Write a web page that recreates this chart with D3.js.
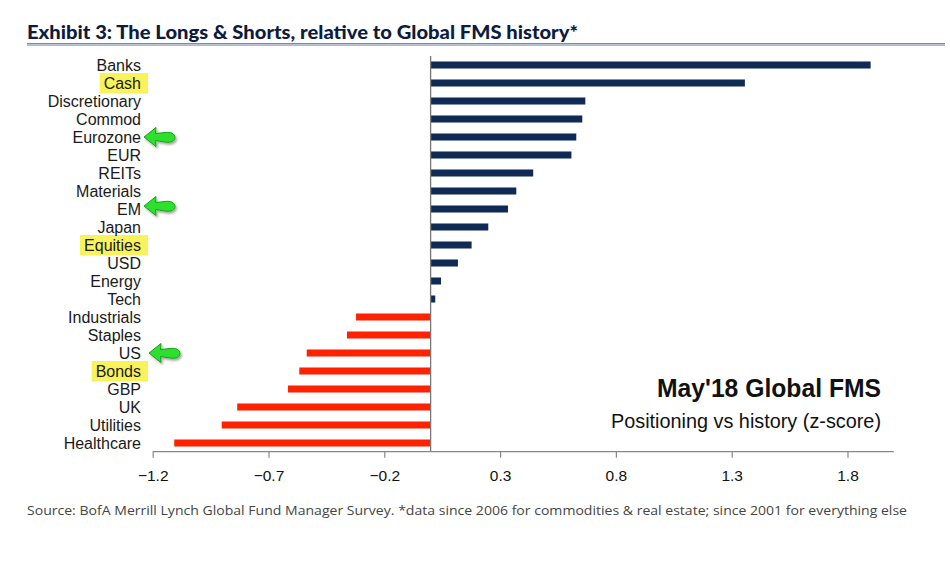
<!DOCTYPE html>
<html><head><meta charset="utf-8">
<script src="https://cdn.jsdelivr.net/npm/d3@7"></script>
<style>html,body{margin:0;padding:0;background:#fff;}svg{display:block;}</style>
</head><body>
<svg id="c" width="950" height="563"></svg>
<script>
const categories = ["Banks","Cash","Discretionary","Commod","Eurozone","EUR","REITs","Materials","EM","Japan","Equities","USD","Energy","Tech","Industrials","Staples","US","Bonds","GBP","UK","Utilities","Healthcare"];
const values = [1.90,1.357,0.668,0.655,0.629,0.608,0.443,0.370,0.334,0.249,0.177,0.118,0.045,0.020,-0.322,-0.361,-0.535,-0.567,-0.616,-0.835,-0.902,-1.107];
const tickValues = [-1.2,-0.7,-0.2,0.3,0.8,1.3,1.8];
const highlighted = ["Cash","Equities","Bonds"];
const arrowed = ["Eurozone","EM","US"];
const titleText = "Exhibit 3: The Longs & Shorts, relative to Global FMS history*";
const noteTitle = "May'18 Global FMS";
const noteSub = "Positioning vs history (z-score)";
const sourceText = "Source: BofA Merrill Lynch Global Fund Manager Survey. *data since 2006 for commodities & real estate; since 2001  for everything else";

const data = categories.map((c,i)=>({cat:c, v:values[i]}));
const svg = d3.select("#c");

const defs = svg.append("defs");
const f = defs.append("filter").attr("id","sh").attr("x","-30%").attr("y","-30%").attr("width","160%").attr("height","160%");
f.append("feDropShadow").attr("dx",1.5).attr("dy",2).attr("stdDeviation",1.2).attr("flood-color","#000").attr("flood-opacity",0.35);

// Title
svg.append("text").attr("x",27).attr("y",39)
  .attr("font-family","Lato, 'Open Sans', sans-serif").attr("font-weight","900")
  .attr("font-size",19).attr("fill","#0d1b3e")
  .attr("textLength",551).attr("lengthAdjust","spacingAndGlyphs")
  .text(titleText);
svg.append("line").attr("x1",27).attr("x2",945).attr("y1",43.8).attr("y2",43.8).attr("stroke","#44597f").attr("stroke-width",1);
svg.append("line").attr("x1",27).attr("x2",945).attr("y1",45.3).attr("y2",45.3).attr("stroke","#a9b9d8").attr("stroke-width",1.5);

const x = d3.scaleLinear().domain([-1.2,2.0]).range([152.7,893.8]);
const y = d3.scaleBand().domain(categories).range([56,452]);
const barH = y.bandwidth()*0.39;

// bars
svg.append("g").selectAll("rect").data(data).join("rect")
  .attr("x",d=>x(Math.min(0,d.v)))
  .attr("width",d=>Math.abs(x(d.v)-x(0)))
  .attr("y",d=>y(d.cat)+y.bandwidth()/2-barH/2)
  .attr("height",barH)
  .attr("fill",d=>d.v>=0?"#0f2a55":"#ff2200");

// zero axis
svg.append("line").attr("x1",x(0)).attr("x2",x(0)).attr("y1",56).attr("y2",452)
  .attr("stroke","#777").attr("stroke-width",1.3);

// x axis
const xa = svg.append("g").attr("transform","translate(0,451.7)")
  .call(d3.axisBottom(x).tickValues(tickValues).tickSize(6).tickPadding(12).tickFormat(d3.format(".1f")));
xa.select(".domain").attr("stroke","#888").attr("stroke-width",1.3).attr("d",`M${x(-1.2)},0H${x(2.0)}`);
xa.selectAll(".tick line").attr("stroke","#888").attr("stroke-width",1.2);
xa.selectAll(".tick text").attr("font-family","'Liberation Sans', Arial, sans-serif").attr("font-size",15.5).attr("fill","#111");

// labels with highlights
const labelX = 141;
const lg = svg.append("g");
const hl = lg.append("g");
const labels = lg.selectAll("text").data(data).join("text")
  .attr("x",labelX).attr("y",d=>y(d.cat)+y.bandwidth()/2).attr("dy","0.37em")
  .attr("text-anchor","end")
  .attr("font-family","'Liberation Sans', Arial, sans-serif").attr("font-size",16).attr("fill","#1a1a1a")
  .text(d=>d.cat);
labels.each(function(d){
  if(highlighted.includes(d.cat)){
    const w = this.getComputedTextLength();
    hl.append("rect").attr("x",labelX-w-4).attr("y",y(d.cat)+y.bandwidth()/2-10)
      .attr("width",w+11).attr("height",20.5).attr("fill","#f8f35a");
  }
});

// arrows
const arrowPath = "M0,0 L12,-9.5 L11.5,-3.5 L21,-4.5 C27,-5.5 31,-3 31,0.5 C31,4 27,6 21,5 L11.5,3.5 L12,9.5 Z";
svg.append("g").selectAll("path").data(data.filter(d=>arrowed.includes(d.cat))).join("path")
  .attr("d",arrowPath)
  .attr("transform",d=>`translate(${labelX+3+(d.cat==="US"?5:0)},${y(d.cat)+y.bandwidth()/2-(d.cat==="EM"?3:0)})`)
  .attr("fill","#2ee02e").attr("stroke","#16a016").attr("stroke-width",1)
  .attr("filter","url(#sh)");

// annotation
svg.append("text").attr("x",881).attr("y",397).attr("text-anchor","end")
  .attr("font-family","'Liberation Sans', Arial, sans-serif").attr("font-weight","bold")
  .attr("font-size",25).attr("fill","#111")
  .attr("textLength",224).attr("lengthAdjust","spacingAndGlyphs")
  .text(noteTitle);
svg.append("text").attr("x",881).attr("y",428).attr("text-anchor","end")
  .attr("font-family","'Liberation Sans', Arial, sans-serif")
  .attr("font-size",20).attr("fill","#111")
  .attr("textLength",270).attr("lengthAdjust","spacingAndGlyphs")
  .text(noteSub);

// source
svg.append("text").attr("x",27).attr("y",515)
  .attr("font-family","'Open Sans', sans-serif").attr("font-size",13).attr("fill","#444")
  .attr("textLength",880).attr("lengthAdjust","spacingAndGlyphs")
  .text(sourceText);
</script>
</body></html>
